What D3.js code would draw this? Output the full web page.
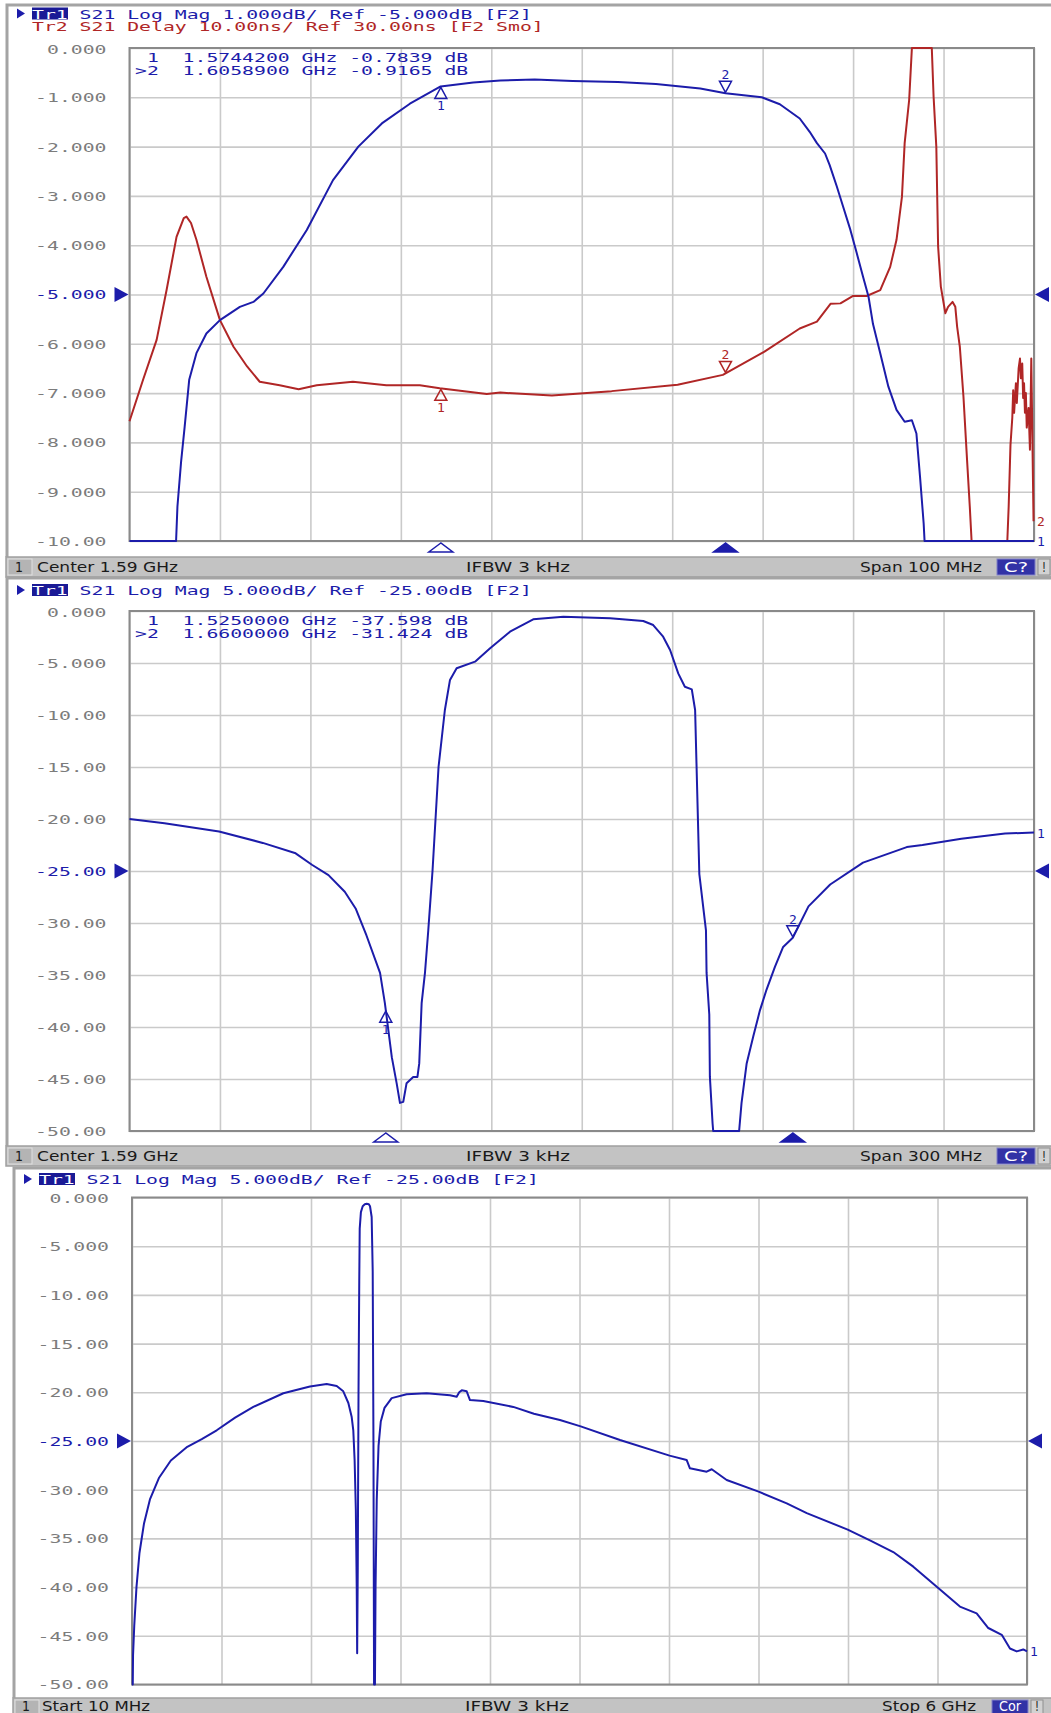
<!DOCTYPE html>
<html>
<head>
<meta charset="utf-8">
<script src="https://cdn.jsdelivr.net/npm/d3@7"></script>
<style>
  body { margin: 0; background: #fff; }
  svg { display: block; }
  text { white-space: pre; }
</style>
</head>
<body>
<svg id="chart" width="1051" height="1713"></svg>
<script>
// ---------- data read off the analyzer screens ----------
// panel 1 : 1.54 - 1.64 GHz, [MHz, dB]
const p1Mag = [
  [1540, -10], [1545.15, -10], [1545.3, -9.3], [1545.7, -8.4], [1546.1, -7.68], [1546.6, -6.73],
  [1547.4, -6.19], [1548.5, -5.79], [1550.0, -5.52], [1552.2, -5.25], [1553.7, -5.15], [1554.8, -4.98],
  [1557.0, -4.44], [1559.6, -3.69], [1562.5, -2.68], [1565.3, -2.0], [1567.9, -1.53], [1571.0, -1.13],
  [1574.4, -0.78], [1578.0, -0.70], [1581.0, -0.66], [1584.8, -0.64], [1589.0, -0.67], [1594.0, -0.69],
  [1598.2, -0.73], [1603.1, -0.82], [1605.9, -0.92], [1609.9, -1.0], [1611.9, -1.14], [1614.1, -1.43],
  [1615.2, -1.70], [1616.0, -1.93], [1616.9, -2.14], [1617.4, -2.37], [1618.2, -2.81], [1618.9, -3.22],
  [1619.7, -3.69], [1620.4, -4.16], [1621.1, -4.64], [1621.7, -5.04], [1622.2, -5.60], [1623.0, -6.19],
  [1623.9, -6.87], [1624.8, -7.34], [1625.7, -7.58], [1626.5, -7.55], [1627.0, -7.82], [1627.4, -8.70],
  [1627.8, -9.64], [1627.9, -10], [1640, -10]
];
// panel 1 : group delay, [MHz, ns]
const p1Delay = [
  [1540.0, 4.3], [1541.5, 12.7], [1543.0, 20.8], [1544.1, 30.9], [1545.2, 41.7], [1546.0, 45.5],
  [1546.3, 45.8], [1546.8, 44.5], [1547.4, 41.1], [1548.5, 33.6], [1550.0, 24.8], [1551.5, 19.4],
  [1553.0, 15.4], [1554.4, 12.3], [1556.6, 11.6], [1558.7, 10.8], [1560.7, 11.6], [1564.7, 12.3],
  [1568.4, 11.6], [1572.1, 11.6], [1574.3, 11.0], [1579.5, 9.8], [1581.0, 10.1], [1586.7, 9.5],
  [1593.3, 10.4], [1600.6, 11.7], [1605.6, 13.7], [1610.2, 18.4], [1614.1, 23.1], [1616.0, 24.5],
  [1617.5, 28.1], [1618.6, 28.2], [1620.0, 29.7], [1621.5, 29.7], [1623.0, 30.9], [1624.1, 35.6],
  [1624.8, 41.1], [1625.4, 49.8], [1625.7, 60.7], [1626.2, 69.5], [1626.5, 80], [1628.7, 80],
  [1628.9, 70.1], [1629.2, 60], [1629.4, 39.7], [1629.7, 31.6], [1630.2, 26.2], [1630.5, 27.5],
  [1631.0, 28.5], [1631.3, 27.5], [1631.5, 23.5], [1631.8, 19.4], [1632.2, 9.3], [1632.6, -3.6],
  [1632.9, -13.0], [1633.1, -20], [1637.05, -20], [1637.2, -13], [1637.4, -0.5], [1637.6, 5],
  [1637.7, 10.6], [1637.8, 6], [1638.0, 12], [1638.1, 8], [1638.3, 15], [1638.45, 17], [1638.55, 13],
  [1638.7, 16], [1638.8, 9], [1638.9, 12], [1639.0, 6], [1639.1, 10], [1639.2, 3], [1639.4, 7],
  [1639.55, -1.5], [1639.7, 17], [1639.95, -16]
];
// panel 2 : 1.44 - 1.74 GHz, [MHz, dB]
const p2Mag = [
  [1440, -20.0], [1451.6, -20.4], [1469.7, -21.2], [1484.2, -22.3], [1495.1, -23.3], [1500.5, -24.4],
  [1506, -25.4], [1511.4, -27.0], [1515.0, -28.6], [1518.6, -31.2], [1523.1, -34.8], [1524.7, -37.7],
  [1527.0, -42.9], [1528.6, -45.4], [1529.7, -47.3], [1530.8, -47.2], [1531.9, -45.4], [1534.1, -44.8],
  [1535.5, -44.8], [1536.1, -43.5], [1536.9, -37.7], [1538.0, -34.8], [1539.1, -30.7], [1540.5, -25],
  [1542.5, -15], [1544.6, -9.52], [1546.3, -6.63], [1548.5, -5.51], [1554.6, -4.87], [1559.6, -3.59],
  [1566.2, -1.99], [1573.9, -0.8], [1583.9, -0.55], [1599.4, -0.7], [1610.4, -0.96], [1613.7, -1.35],
  [1617.0, -2.47], [1619.3, -3.75], [1622.0, -6.0], [1624.2, -7.28], [1626.5, -7.53], [1627.6, -9.52],
  [1629.0, -25.3], [1631.2, -30.7], [1631.4, -34.8], [1632.3, -38.8], [1632.5, -44.8], [1633.4, -49.3],
  [1633.6, -50], [1642.2, -50], [1643.0, -47.3], [1644.7, -43.5], [1646.9, -40.9], [1649.1, -38.4],
  [1651.3, -36.4], [1654.1, -34.2], [1656.8, -32.3], [1660, -31.42], [1665.2, -28.4], [1672.4, -26.3],
  [1683.3, -24.2], [1697.8, -22.7], [1703, -22.5], [1715.9, -21.9], [1730.4, -21.4], [1740, -21.3]
];
// panel 3 : 10 MHz - 6 GHz, [MHz, dB]
const p3Mag = [
  [10, -50], [15, -50], [17, -47], [25, -44], [40, -40], [60, -36.5], [90, -33.5], [130, -31],
  [190, -28.8], [270, -27], [380, -25.6], [477, -24.8], [577, -23.9], [700, -22.6], [822, -21.5],
  [1023, -20.1], [1201, -19.4], [1313, -19.15], [1380, -19.35], [1424, -19.9], [1458, -21.1],
  [1480, -22.5], [1491, -23.9], [1500, -27], [1508, -32], [1514, -40], [1517, -46.8], [1521, -38],
  [1526, -20], [1531, -8.5], [1534, -3.2], [1542, -1.5], [1554, -0.9], [1568, -0.7], [1581, -0.65],
  [1595, -0.7], [1603, -0.9], [1614, -2.0], [1621, -7.6], [1626, -25], [1630, -50], [1636, -50],
  [1640, -40], [1648, -31], [1660, -25.5], [1675, -23], [1700, -21.6], [1748, -20.6], [1848, -20.2],
  [1982, -20.1], [2138, -20.3], [2183, -20.45], [2200, -20.0], [2217, -19.8], [2250, -19.9],
  [2272, -20.8], [2361, -20.9], [2562, -21.5], [2700, -22.2], [2874, -22.85], [3013, -23.5],
  [3276, -24.9], [3608, -26.5], [3722, -26.95], [3744, -27.8], [3856, -28.15], [3890, -27.9],
  [3990, -29.0], [4204, -30.2], [4392, -31.4], [4526, -32.4], [4800, -34.1], [4949, -35.2],
  [5105, -36.4], [5239, -37.9], [5398, -40.0], [5551, -42.0], [5663, -42.7], [5741, -44.2],
  [5831, -44.9], [5886, -46.3], [5931, -46.6], [5975, -46.4], [6000, -46.6]
];

// tick values / labels of the left scales
const p1TickValues = [0, -1, -2, -3, -4, -5, -6, -7, -8, -9, -10];
const p1TickLabels = ["0.000", "-1.000", "-2.000", "-3.000", "-4.000", "-5.000",
  "-6.000", "-7.000", "-8.000", "-9.000", "-10.00"];
const p23TickValues = [0, -5, -10, -15, -20, -25, -30, -35, -40, -45, -50];
const p23TickLabels = ["0.000", "-5.000", "-10.00", "-15.00", "-20.00", "-25.00",
  "-30.00", "-35.00", "-40.00", "-45.00", "-50.00"];

// markers (MHz) and readouts
const p1MarkerFreqs = [1574.42, 1605.89];
const p2MarkerFreqs = [1525, 1660];
const p1Readout = [" 1  1.5744200 GHz -0.7839 dB", ">2  1.6058900 GHz -0.9165 dB"];
const p2Readout = [" 1  1.5250000 GHz -37.598 dB", ">2  1.6600000 GHz -31.424 dB"];

// header and status texts
const p1Titles = ["S21 Log Mag 1.000dB/ Ref -5.000dB [F2]", "Tr2 S21 Delay 10.00ns/ Ref 30.00ns [F2 Smo]"];
const p2Titles = ["S21 Log Mag 5.000dB/ Ref -25.00dB [F2]"];
const p3Titles = ["S21 Log Mag 5.000dB/ Ref -25.00dB [F2]"];
const p1Status = ["Center 1.59 GHz", "IFBW 3 kHz", "Span 100 MHz", "C?"];
const p2Status = ["Center 1.59 GHz", "IFBW 3 kHz", "Span 300 MHz", "C?"];
const p3Status = ["Start 10 MHz", "IFBW 3 kHz", "Stop 6 GHz", "Cor"];

// ---------- drawing ----------
const svg = d3.select("#chart");
const CH = 11.9;            // cell width of the stretched analyzer font
const BLUE = "#1c1caa";
const RED = "#b02626";
const GRID = "#cacaca";

// put a monospace string so that every character takes one cell
function mono(g, x, y, str, color, size) {
  return g.append("text")
    .attr("x", x).attr("y", y)
    .attr("font-family", "'DejaVu Sans Mono', monospace")
    .attr("font-size", size || 13)
    .attr("textLength", str.length * CH)
    .attr("lengthAdjust", "spacingAndGlyphs")
    .attr("fill", color)
    .text(str);
}

// value of a trace at a given frequency (linear between read points)
function valueAt(series, f) {
  const i = d3.bisector((d) => d[0]).left(series, f);
  const a = series[Math.max(0, i - 1)];
  const b = series[Math.min(series.length - 1, i)];
  if (a === b || b[0] === a[0]) return a[1];
  return a[1] + ((b[1] - a[1]) * (f - a[0])) / (b[0] - a[0]);
}

function drawPanel(p) {
  const g = svg.append("g");
  const width = p.right - p.left;
  const height = p.bottom - p.top;

  // frame of the window
  g.append("path")
    .attr("d", `M${p.frameX},${p.statusY} V${p.frameY} H1051`)
    .attr("fill", "none").attr("stroke", "#a4a4a4").attr("stroke-width", 3);

  const x = d3.scaleLinear().domain(p.xDomain).range([p.left, p.right]);
  const y = d3.scaleLinear().domain([p.yMin, p.yMax]).range([p.bottom, p.top]).clamp(true);

  // grid: 10 divisions both ways
  const xDiv = d3.range(11).map((i) => p.xDomain[0] + (i * (p.xDomain[1] - p.xDomain[0])) / 10);
  g.append("g")
    .attr("transform", `translate(0,${p.bottom})`)
    .call(d3.axisBottom(x).tickValues(xDiv).tickSize(-height).tickFormat(""))
    .call((s) => s.select(".domain").remove())
    .call((s) => s.selectAll("line").attr("stroke", GRID).attr("stroke-width", 1.6));
  g.append("g")
    .attr("transform", `translate(${p.left},0)`)
    .call(d3.axisLeft(y).tickValues(p.tickValues).tickSize(-width).tickFormat(""))
    .call((s) => s.select(".domain").remove())
    .call((s) => s.selectAll("line").attr("stroke", GRID).attr("stroke-width", 1.6));

  // left scale labels
  const yAxis = g.append("g")
    .attr("transform", `translate(${p.left},0)`)
    .call(d3.axisLeft(y).tickValues(p.tickValues).tickSize(0).tickPadding(23)
      .tickFormat((d, i) => p.tickLabels[i]));
  yAxis.select(".domain").remove();
  yAxis.selectAll("text")
    .attr("font-family", "'DejaVu Sans Mono', monospace")
    .attr("font-size", 13)
    .attr("fill", (d) => (d === p.ref ? BLUE : "#7c7c7c"))
    .attr("textLength", (d, i) => p.tickLabels[i].length * CH)
    .attr("lengthAdjust", "spacingAndGlyphs")
    .attr("dy", (d, i) => (i === 0 ? "0.42em" : "0.34em"));

  // plot border
  g.append("rect")
    .attr("x", p.left).attr("y", p.top).attr("width", width).attr("height", height)
    .attr("fill", "none").attr("stroke", "#8a8a8a").attr("stroke-width", 2);

  // reference level arrows
  const yr = y(p.ref);
  g.append("path").attr("d", `M${p.left - 15},${yr - 7.5} L${p.left - 1},${yr} L${p.left - 15},${yr + 7.5} Z`).attr("fill", BLUE);
  g.append("path").attr("d", `M${p.right + 15},${yr - 7.5} L${p.right + 1},${yr} L${p.right + 15},${yr + 7.5} Z`).attr("fill", BLUE);

  // traces
  p.traces.forEach((t) => {
    const ty = t.scale || y;
    const line = d3.line().x((d) => x(d[0])).y((d) => ty(d[1]));
    g.append("path")
      .datum(t.data)
      .attr("d", line)
      .attr("fill", "none")
      .attr("stroke", t.color)
      .attr("stroke-width", 2)
      .attr("stroke-linejoin", "round");

    // markers on the trace
    (p.markers || []).forEach((f, i) => {
      const mx = x(f);
      const my = ty(valueAt(t.data, f));
      const below = i === 0;
      const s = below ? 1 : -1;
      g.append("path")
        .attr("d", `M${mx},${my + s} L${mx - 6},${my + s * 12} L${mx + 6},${my + s * 12} Z`)
        .attr("fill", "none").attr("stroke", t.color).attr("stroke-width", 1.5);
      g.append("text")
        .attr("x", mx).attr("y", below ? my + 24 : my - 14)
        .attr("text-anchor", "middle")
        .attr("font-family", "'DejaVu Sans Mono', monospace")
        .attr("font-size", 13)
        .attr("fill", t.color)
        .text(String(i + 1));
    });

    // trace number at the right end
    const last = t.data[t.data.length - 1];
    g.append("text")
      .attr("x", p.right + 3).attr("y", ty(last[1]) + 5)
      .attr("font-family", "'DejaVu Sans Mono', monospace")
      .attr("font-size", 13)
      .attr("fill", t.color)
      .text(t.label);
  });

  // marker position flags under the grid
  (p.markers || []).forEach((f, i) => {
    const mx = x(f);
    g.append("path")
      .attr("d", `M${mx},${p.bottom + 2} L${mx - 12},${p.bottom + 11} L${mx + 12},${p.bottom + 11} Z`)
      .attr("fill", i === 1 ? BLUE : "#fff")
      .attr("stroke", BLUE).attr("stroke-width", 1.5);
  });

  // marker readout
  (p.readout || []).forEach((r, i) => mono(g, p.left + 5.5, p.top + 14 + i * 12.5, r, BLUE));

  // header
  const hx = p.frameX + 10;
  g.append("path").attr("d", `M${hx},${p.titleY - 10} L${hx + 8},${p.titleY - 5} L${hx},${p.titleY} Z`).attr("fill", BLUE);
  g.append("rect").attr("x", hx + 15).attr("y", p.titleY - 11).attr("width", 36).attr("height", 12).attr("fill", "#1a1a96");
  mono(g, hx + 15, p.titleY, "Tr1", "#fff");
  mono(g, hx + 15 + 4 * CH, p.titleY, p.titles[0], BLUE);
  if (p.titles[1]) mono(g, hx + 15, p.titleY + 12.5, p.titles[1], RED);

  // status bar
  const sy = p.statusY;
  g.append("rect").attr("x", p.frameX - 1).attr("y", sy).attr("width", 1060 - p.frameX).attr("height", 20)
    .attr("fill", "#c3c3c3").attr("stroke", "#a0a0a0").attr("stroke-width", 1.5);
  g.append("rect").attr("x", p.frameX + 1).attr("y", sy + 2).attr("width", 24).attr("height", 16)
    .attr("fill", "#b4b4b4").attr("stroke", "#e0e0e0").attr("stroke-width", 1);
  const st = (x0, str, w, color) => g.append("text")
    .attr("x", x0).attr("y", sy + p.statusBase)
    .attr("font-family", "'DejaVu Sans', sans-serif").attr("font-size", 13.5)
    .attr("textLength", w).attr("lengthAdjust", "spacingAndGlyphs")
    .attr("fill", color || "#1a1a1a").text(str);
  st(p.frameX + 8, "1", 8);
  st(p.frameX + p.statusW[0][0], p.status[0], p.statusW[0][1]);
  st(p.statusW[1][0], p.status[1], p.statusW[1][1]);
  st(p.statusW[2][0], p.status[2], p.statusW[2][1]);
  g.append("rect").attr("x", p.statusW[3][0]).attr("y", sy + 2).attr("width", p.statusW[3][1]).attr("height", 16)
    .attr("fill", "#3232a6").attr("stroke", "#8080c8").attr("stroke-width", 1);
  st(p.statusW[3][0] + 7, p.status[3], p.statusW[3][1] - 14, "#fff");
  g.append("rect").attr("x", p.statusW[3][0] + p.statusW[3][1] + 3).attr("y", sy + 2).attr("width", 12).attr("height", 16)
    .attr("fill", "#d2d2d2").attr("stroke", "#909090").attr("stroke-width", 1);
  st(p.statusW[3][0] + p.statusW[3][1] + 7, "!", 4);
}

// delay uses its own scale (10 ns/div, 30 ns at the reference line)
const delayScale = d3.scaleLinear().domain([-20, 80]).range([541, 48]).clamp(true);

drawPanel({
  frameX: 7, frameY: 5, titleY: 18.5, statusY: 557, statusBase: 15,
  left: 129.5, right: 1034, top: 48, bottom: 541,
  xDomain: [1540, 1640], yMin: -10, yMax: 0, ref: -5,
  tickValues: p1TickValues, tickLabels: p1TickLabels,
  titles: p1Titles, status: p1Status,
  statusW: [[30, 141], [466, 104], [860, 122], [997, 38]],
  markers: p1MarkerFreqs, readout: p1Readout,
  traces: [
    { data: p1Delay, color: RED, label: "2", scale: delayScale },
    { data: p1Mag, color: BLUE, label: "1" }
  ]
});

drawPanel({
  frameX: 7, frameY: 578, titleY: 595, statusY: 1146, statusBase: 15,
  left: 129.5, right: 1034, top: 611, bottom: 1131,
  xDomain: [1440, 1740], yMin: -50, yMax: 0, ref: -25,
  tickValues: p23TickValues, tickLabels: p23TickLabels,
  titles: p2Titles, status: p2Status,
  statusW: [[30, 141], [466, 104], [860, 122], [997, 38]],
  markers: p2MarkerFreqs, readout: p2Readout,
  traces: [{ data: p2Mag, color: BLUE, label: "1" }]
});

drawPanel({
  frameX: 14, frameY: 1168, titleY: 1184, statusY: 1698, statusBase: 13,
  left: 132, right: 1027, top: 1197.5, bottom: 1684.5,
  xDomain: [10, 6000], yMin: -50, yMax: 0, ref: -25,
  tickValues: p23TickValues, tickLabels: p23TickLabels,
  titles: p3Titles, status: p3Status,
  statusW: [[28, 108], [465, 104], [882, 94], [992, 36]],
  traces: [{ data: p3Mag, color: BLUE, label: "1" }]
});
</script>
</body>
</html>
